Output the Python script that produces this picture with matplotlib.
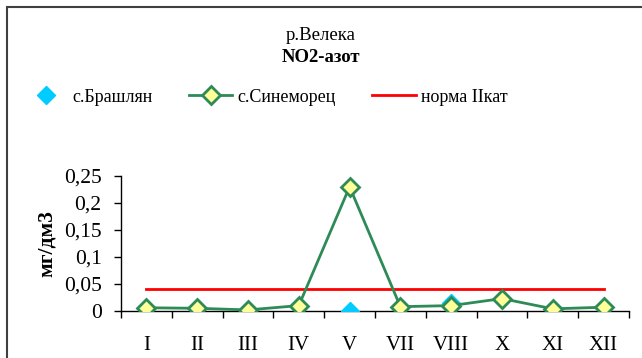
"""
NO2-азот, р.Велека
"""

import matplotlib.pyplot as plt
from matplotlib.patches import Rectangle
import numpy as np

months = ["I", "II", "III", "IV", "V", "VII", "VIII", "X", "XI", "XII"]
sinemorec = [0.006, 0.005, 0.002, 0.010, 0.230, 0.008, 0.010, 0.023, 0.004, 0.007]
brashlyan = [np.nan, np.nan, np.nan, np.nan, 0.0, np.nan, 0.014, np.nan, np.nan, np.nan]
norma = [0.04] * len(months)

plt.rcParams["font.family"] = ["Liberation Serif", "DejaVu Serif"]
plt.rcParams["font.size"] = 13.5

fig = plt.figure(figsize=(6.42, 3.58), dpi=100)
fig.patches.append(Rectangle((7 / 642, -0.1), 1.2, 1 - 7 / 358 + 0.1,
                             transform=fig.transFigure, fill=False,
                             edgecolor="#404040", linewidth=1.5))

ax = fig.add_axes([121 / 642, 1 - 311 / 358, (629 - 121) / 642, (311 - 176) / 358])
x = np.arange(len(months))

ax.plot(x, norma, color="#ff0000", linewidth=2, label="норма IIкат", zorder=2)
ax.plot(x, brashlyan, linestyle="none", marker="D", markersize=9.5,
        color="#00ccff", label="с.Брашлян", zorder=3)
ax.plot(x, sinemorec, color="#2e8b57", linewidth=2, marker="D", markersize=9.5,
        markerfacecolor="#ffff99", markeredgecolor="#2e8b57", markeredgewidth=2,
        label="с.Синеморец", zorder=4)

ax.set_xlim(-0.5, len(months) - 0.5)
ax.set_ylim(0, 0.25)
ax.set_yticks([0, 0.05, 0.1, 0.15, 0.2, 0.25])
ax.set_yticklabels(["0", "0,05", "0,1", "0,15", "0,2", "0,25"], fontsize=15.5)
ax.set_xticks(np.arange(len(months) + 1) - 0.5)
ax.set_xticklabels([])
ax.set_xticks(x, minor=True)
ax.set_xticklabels(months, minor=True, fontsize=15)
ax.tick_params(axis="x", which="major", direction="out", length=5, width=1)
ax.tick_params(axis="x", which="minor", length=0, pad=18)
ax.tick_params(axis="y", direction="out", length=5, width=1, pad=9)
for s in ["top", "right"]:
    ax.spines[s].set_visible(False)
ax.spines["left"].set_linewidth(1)
ax.spines["bottom"].set_linewidth(1)
ax.set_ylabel("мг/дм3", fontweight="bold", fontsize=15.5, labelpad=5)

fig.text(0.5, 1 - 35 / 358, "р.Велека", ha="center", va="center")
fig.text(0.5, 1 - 58 / 358, "NO2-азот", ha="center", va="center", fontweight="bold")

handles, labels = ax.get_legend_handles_labels()
order = [1, 2, 0]
fig.legend([handles[i] for i in order], [labels[i] for i in order],
           loc="center left", bbox_to_anchor=(24 / 642, 1 - 97 / 358), ncol=3,
           frameon=False, fontsize=13, columnspacing=2.0, handlelength=2.4,
           handletextpad=0.3, borderpad=0, borderaxespad=0)

plt.savefig("out.png", dpi=100)
